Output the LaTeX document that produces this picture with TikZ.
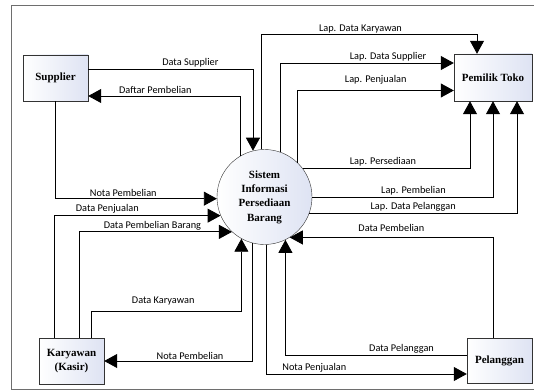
\documentclass[tikz,border=0pt]{standalone}
\usepackage{fontspec}
\setmainfont{Liberation Serif}
\newfontfamily\ketfont{Carlito}
\usetikzlibrary{positioning,calc,arrows.meta}
\definecolor{isi}{RGB}{222,227,243}
\definecolor{bingkai}{RGB}{110,110,110}

\begin{document}
\begin{tikzpicture}[x=1pt, y=-1pt,
  entitas/.style={draw=black!80, rectangle, left color=white, right color=isi, minimum width=65pt, minimum height=46pt, align=center, font=\fontsize{11}{14}\selectfont\bfseries},
  proses/.style={draw=black!80, circle, left color=white, right color=isi, minimum size=95pt, inner sep=0pt, align=center, font=\fontsize{11}{14.3}\selectfont\bfseries},
  aliran/.style={draw, line width=0.85pt, -{Triangle[length=13pt,width=14pt]}},
  ket/.style={font=\ketfont\fontsize{10.3}{12}\selectfont, inner sep=1.5pt, above}]
  \useasboundingbox (0,0) rectangle (534,390);
  \draw[bingkai, line width=1pt] (534,6) -- (11,6) -- (11,389) -- (534,389);

  \node[entitas] (sup) at (55.5,78) {Supplier};
  \node[entitas, minimum width=78pt, minimum height=47pt] (pem) at (493,77.5) {Pemilik Toko};
  \node[entitas] (kar) at (71.5,361) {Karyawan\\(Kasir)};
  \node[entitas, minimum height=45pt] (pel) at (499.5,360.5) {Pelanggan};
  \node[proses] (sis) at (264.5,197) {Sistem\\Informasi\\Persediaan\\Barang};

  \draw[aliran] ($(sup.east)+(0,-9)$) -| (sis.104) node[ket, pos=0.31] {Data Supplier};
  \draw[aliran] (sis.120) |- ($(sup.east)+(0,18)$) node[ket, pos=0.78] {Daftar Pembelian};
  \draw[aliran] (sup.south) |- (sis.182) node[ket, pos=0.71] {Nota Pembelian};
  \draw[aliran] ($(kar.north)+(-17.5,0)$) |- (sis.203) node[ket, pos=0.66] {Data Penjualan};
  \draw[aliran] ($(kar.north)+(7.5,0)$) |- (sis.227) node[ket, pos=0.74] {Data Pembelian Barang};
  \draw[aliran] ($(kar.north)+(19.5,0)$) -- ++(0,-26) -| (sis.241) node[ket, pos=0.24, yshift=5pt] {Data Karyawan};
  \draw[aliran] (sis.255) |- (kar.east) node[ket, pos=0.71] {Nota Pembelian};
  \draw[aliran] (sis.272) |- ($(pel.west)+(0,13.5)$) node[ket, pos=0.62] {Nota Penjualan};
  \draw[aliran] ($(pel.west)+(0,-5.5)$) -| (sis.296) node[ket, pos=0.18] {Data Pelanggan};
  \draw[aliran] (pel.north -| pem.south) |- (sis.302) node[ket, pos=0.75, yshift=4pt] {Data Pembelian};

  \draw[aliran] (sis.94) |- ($(pem.north)+(-16,-19)$) node[ket, pos=0.73] {Lap. Data Karyawan} -- ($(pem.north)+(-16,0)$);
  \draw[aliran] (sis.70) |- ($(pem.west)+(0,-14.5)$) node[ket, pos=0.81] {Lap. Data Supplier};
  \draw[aliran] (sis.46) |- ($(pem.west)+(0,13)$) node[ket, pos=0.75, yshift=4pt] {Lap. Penjualan};
  \draw[aliran] (sis.37) -| ($(pem.south)+(-23,0)$) node[ket, pos=0.24] {Lap. Persediaan};
  \draw[aliran] (sis.0) -| (pem.south) node[ket, pos=0.28] {Lap. Pembelian};
  \draw[aliran] (sis.340) -| ($(pem.south)+(24,0)$) node[ket, pos=0.25] {Lap. Data Pelanggan};
\end{tikzpicture}
\end{document}
